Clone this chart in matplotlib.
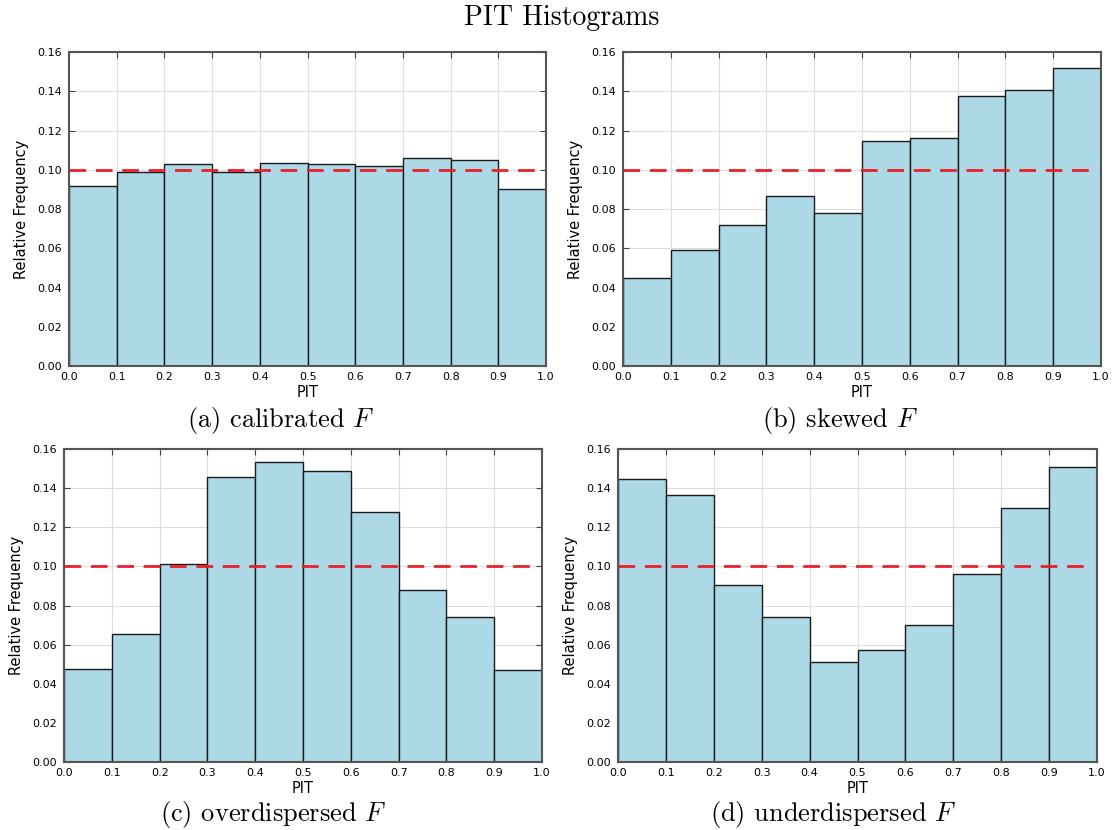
import matplotlib
matplotlib.use('Agg')
import matplotlib.pyplot as plt
import numpy as np

plt.rcParams['mathtext.fontset'] = 'cm'

# bin edges of the PIT histograms
bin_edges = [0.0, 0.1, 0.2, 0.3, 0.4, 0.5, 0.6, 0.7, 0.8, 0.9, 1.0]

# relative frequency per bin
calibrated = [0.0917, 0.0987, 0.1031, 0.0987, 0.1037, 0.1028, 0.1021, 0.1060, 0.1052, 0.0903]
skewed = [0.0447, 0.0591, 0.0721, 0.0864, 0.0780, 0.1149, 0.1163, 0.1378, 0.1409, 0.1518]
overdispersed = [0.0475, 0.0656, 0.1014, 0.1455, 0.1533, 0.1489, 0.1280, 0.0881, 0.0743, 0.0470]
underdispersed = [0.1447, 0.1365, 0.0906, 0.0739, 0.0509, 0.0572, 0.0702, 0.0963, 0.1296, 0.1510]

captions = ['(a) calibrated', '(b) skewed', '(c) overdispersed', '(d) underdispersed']
uniform_level = 0.1

fig = plt.figure(figsize=(11.12, 8.30), dpi=100)

# axes boxes in figure fractions (left, bottom, width, height)
boxes = [[0.0621, 0.5590, 0.4290, 0.3783],
         [0.5602, 0.5590, 0.4299, 0.3783],
         [0.0576, 0.0819, 0.4299, 0.3771],
         [0.5558, 0.0819, 0.4307, 0.3771]]
caption_pos = [(0.2527, 0.4855), (0.7550, 0.4855), (0.2455, 0.0110), (0.7490, 0.0110)]

series = [calibrated, skewed, overdispersed, underdispersed]
lefts = bin_edges[:-1]

for box, vals, cap, cpos in zip(boxes, series, captions, caption_pos):
    ax = fig.add_axes(box)
    ax.bar(lefts, vals, width=0.1, align='edge', color='#add8e6',
           edgecolor='#1a1a1a', linewidth=1.0, zorder=2)
    ax.plot([0.0, 0.99], [uniform_level, uniform_level], color='#e8202a',
            linestyle=(0, (6, 3.5)), linewidth=2.0, zorder=3)
    ax.set_xlim(0, 1)
    ax.set_ylim(0, 0.16)
    ax.set_xticks(np.arange(0, 1.01, 0.1))
    ax.set_yticks(np.arange(0, 0.161, 0.02))
    ax.xaxis.set_major_formatter(matplotlib.ticker.FormatStrFormatter('%.1f'))
    ax.yaxis.set_major_formatter(matplotlib.ticker.FormatStrFormatter('%.2f'))
    ax.grid(True, color='#dddddd', linewidth=0.8, zorder=0)
    ax.set_axisbelow(True)
    ax.tick_params(direction='in', top=True, right=True, labelsize=8,
                   length=4, color='#444444')
    ax.tick_params(axis='x', pad=4.5)
    ax.tick_params(axis='y', pad=5)
    for s in ax.spines.values():
        s.set_color('#555555')
        s.set_linewidth(1.5)
    ax.set_xlabel('PIT', fontsize=10.5, labelpad=2)
    ax.set_ylabel('Relative Frequency', fontsize=10.5, labelpad=6)
    fig.text(cpos[0], cpos[1], cap + r' $F$', fontsize=19, family='cmr10',
             ha='center', va='baseline')

fig.text(0.505, 0.970, 'PIT Histograms', fontsize=20, family='cmr10',
         ha='center', va='baseline')

fig.savefig('out.png', dpi=100)
